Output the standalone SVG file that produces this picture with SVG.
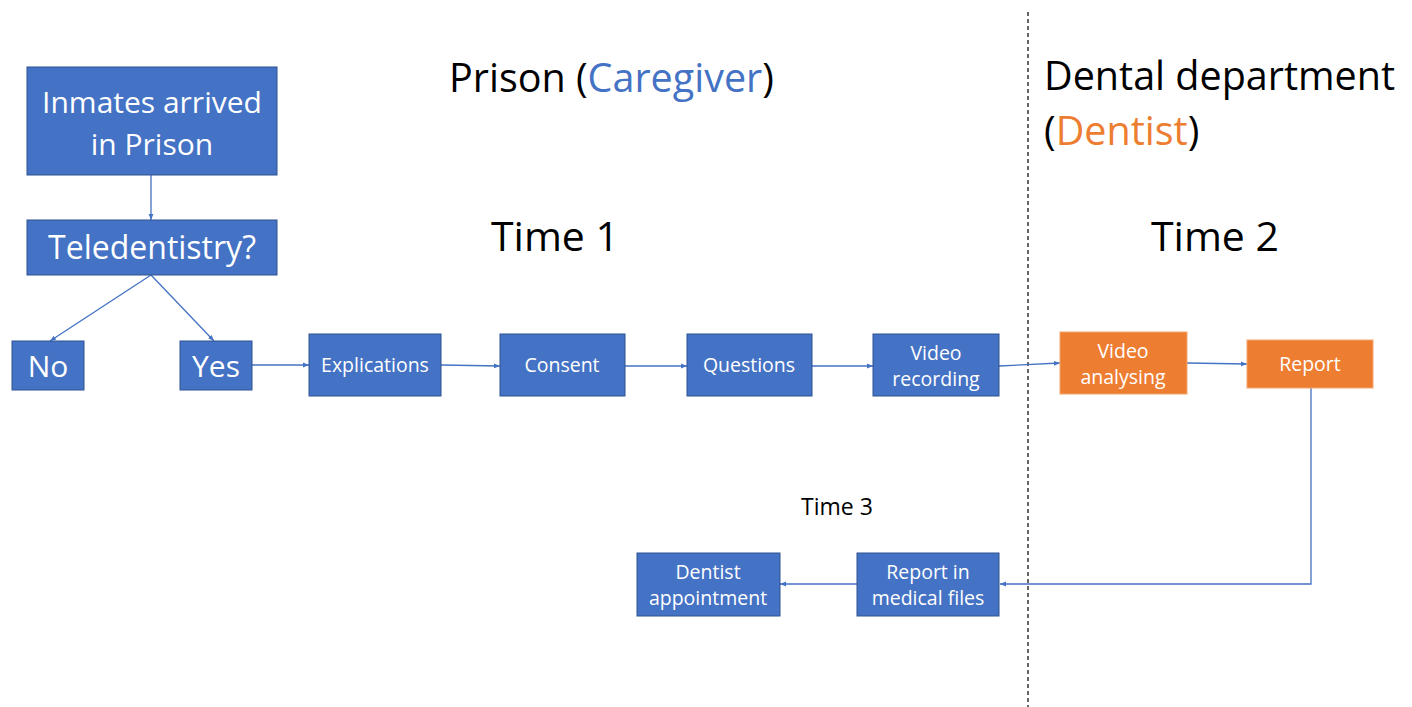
<svg xmlns="http://www.w3.org/2000/svg" width="1412" height="707" viewBox="0 0 1412 707">
<style>
.b{fill:#4472C4;stroke:#2F528F;stroke-width:1}
.o{fill:#ED7D31;stroke:#F4A66E;stroke-width:1}
.t{font-family:"Open Sans","Liberation Sans",sans-serif;fill:#fff;text-anchor:middle}
.s{font-size:19.5px}
.h{font-family:"Open Sans","Liberation Sans",sans-serif;fill:#000}
.c{stroke:#4472C4;stroke-width:1.3;fill:none;marker-end:url(#a)}
</style>
<defs>
<marker id="a" viewBox="0 0 10 10" refX="10" refY="5" markerWidth="6" markerHeight="6" orient="auto" markerUnits="userSpaceOnUse"><path d="M0,1L10,5L0,9z" fill="#4472C4"/></marker>
</defs>
<rect width="1412" height="707" fill="#fff"/>
<line x1="1028" y1="12" x2="1028" y2="707" stroke="#000" stroke-width="1.2" stroke-dasharray="4,3"/>
<g id="labels">
<text class="h" x="449" y="92" font-size="39.5">Prison (<tspan fill="#4472C4">Caregiver</tspan>)</text>
<text class="h" x="1044" y="90" font-size="39.5">Dental department</text>
<text class="h" x="1044" y="145" font-size="39.5">(<tspan fill="#ED7D31">Dentist</tspan>)</text>
<text class="h" x="555" y="251" font-size="41" text-anchor="middle">Time 1</text>
<text class="h" x="1215" y="251" font-size="41" text-anchor="middle">Time 2</text>
<text class="h" x="837" y="515" font-size="23" text-anchor="middle">Time 3</text>
</g>
<g id="connectors">
<line class="c" x1="151" y1="175" x2="151" y2="220"/>
<line class="c" x1="151" y1="275" x2="50" y2="341"/>
<line class="c" x1="151" y1="275" x2="214" y2="341"/>
<line class="c" x1="252" y1="365" x2="309" y2="365"/>
<line class="c" x1="441" y1="365" x2="500" y2="366"/>
<line class="c" x1="625" y1="366" x2="687" y2="366"/>
<line class="c" x1="812" y1="366" x2="873" y2="366"/>
<line class="c" x1="999" y1="366" x2="1060" y2="363"/>
<line class="c" x1="1187" y1="363" x2="1247" y2="364"/>
<polyline class="c" points="1311,388 1311,584 1000,584"/>
<line class="c" x1="857" y1="584" x2="780" y2="584"/>
</g>
<g id="n-inmates"><rect class="b" x="27" y="67" width="250" height="108"/><text class="t" x="152" y="113" font-size="30">Inmates arrived</text><text class="t" x="152" y="155" font-size="30">in Prison</text></g>
<g id="n-tele"><rect class="b" x="27" y="220" width="250" height="55"/><text class="t" x="152" y="259" font-size="32">Teledentistry?</text></g>
<g id="n-no"><rect class="b" x="12" y="341" width="72" height="49"/><text class="t" x="48" y="377" font-size="30">No</text></g>
<g id="n-yes"><rect class="b" x="180" y="341" width="72" height="49"/><text class="t" x="216" y="377" font-size="30">Yes</text></g>
<g id="n-expl"><rect class="b" x="309" y="334" width="132" height="62"/><text class="t s" x="375" y="372">Explications</text></g>
<g id="n-consent"><rect class="b" x="500" y="334" width="125" height="62"/><text class="t s" x="562" y="372">Consent</text></g>
<g id="n-questions"><rect class="b" x="687" y="334" width="125" height="62"/><text class="t s" x="749" y="372">Questions</text></g>
<g id="n-video"><rect class="b" x="873" y="334" width="126" height="62"/><text class="t s" x="936" y="360">Video</text><text class="t s" x="936" y="386">recording</text></g>
<g id="n-analysing"><rect class="o" x="1060" y="332" width="127" height="62"/><text class="t s" x="1123" y="358">Video</text><text class="t s" x="1123" y="384">analysing</text></g>
<g id="n-report"><rect class="o" x="1247" y="340" width="126" height="48"/><text class="t s" x="1310" y="371">Report</text></g>
<g id="n-medical"><rect class="b" x="857" y="553" width="142" height="63"/><text class="t s" x="928" y="579">Report in</text><text class="t s" x="928" y="605">medical files</text></g>
<g id="n-dentist"><rect class="b" x="637" y="553" width="143" height="63"/><text class="t s" x="708" y="579">Dentist</text><text class="t s" x="708" y="605">appointment</text></g>
</svg>
